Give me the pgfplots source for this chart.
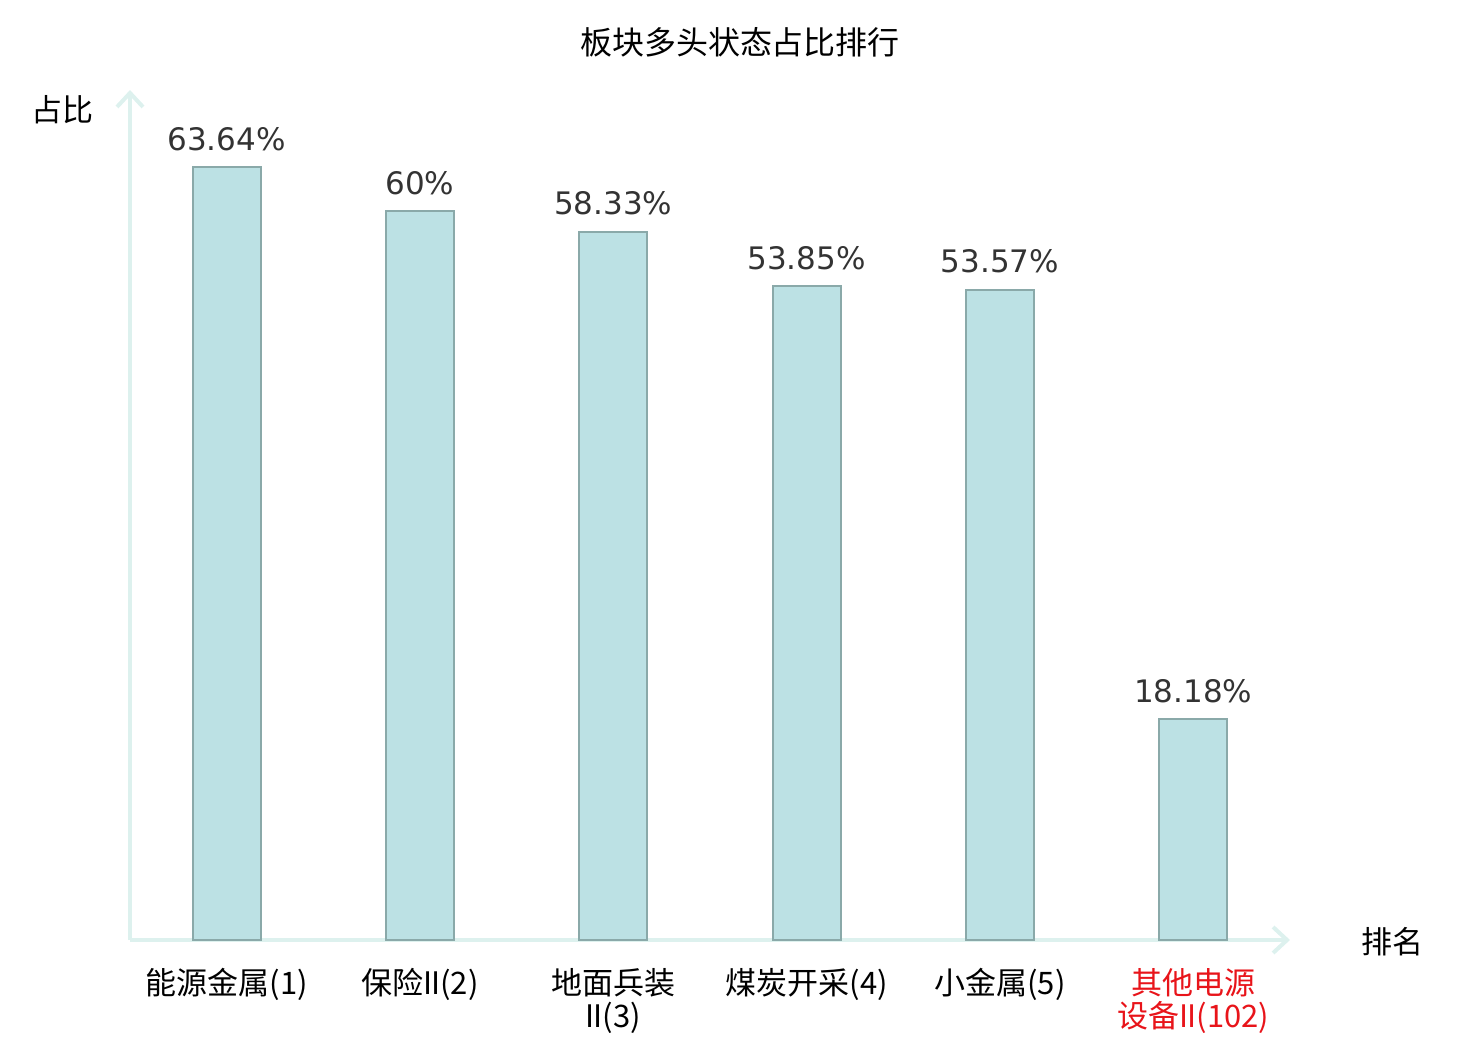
\documentclass[border=0pt]{standalone}
\usepackage{fontspec}
\usepackage{pgfplots}
\usepackage{pgfplotstable}
\pgfplotsset{compat=1.18}
\usetikzlibrary{arrows.meta}
\setmainfont{Noto Sans CJK SC}
\newfontfamily\numfont{DejaVu Sans}
\definecolor{barfill}{HTML}{BCE1E4}
\definecolor{baredge}{HTML}{8AA9A9}
\definecolor{axcol}{HTML}{DDF1EE}
\definecolor{lab}{HTML}{333333}
\definecolor{hl}{HTML}{E8141A}
\newcommand{\rn}{I\kern-0.04em I}
\pgfplotstableread{
x y
0 63.64
1 60
2 58.33
3 53.85
4 53.57
5 18.18
}\datatab
\begin{document}
\begin{tikzpicture}
\begin{axis}[
  scale only axis, width=580pt, height=425pt,
  xmin=-0.5, xmax=5.5, ymin=0, ymax=70,
  axis x line=bottom, axis y line=left,
  axis line style={draw=axcol, line width=2pt, -{Straight Barb[length=7pt,width=13pt]}},
  ytick=\empty,
  xtick={0,1,2,3,4,5},
  xticklabels={{能源金属(1)},{保险\rn(2)},{地面兵装\\\rn(3)},{煤炭开采(4)},{小金属(5)},{\textcolor{hl}{其他电源}\\\textcolor{hl}{设备\rn(102)}}},
  major tick length=0pt,
  xticklabel style={font=\fontsize{15.5}{16.5}\selectfont, align=center, anchor=north, yshift=-10.5pt, text=black},
  ybar, bar width=34pt,
  nodes near coords={\pgfmathprintnumber[fixed,precision=2]{\pgfplotspointmeta}\%},
  point meta=y,
  nodes near coords style={font=\numfont\fontsize{15.5}{18}\selectfont, text=lab, yshift=4.5pt, /pgf/number format/assume math mode=true},
  clip=false,
]
\addplot[fill=barfill, draw=baredge, line width=1pt] table[x=x,y=y] {\datatab};
\end{axis}
\node[font=\fontsize{16}{18}\selectfont] at (305pt,449pt) {板块多头状态占比排行};
\node[font=\fontsize{15.5}{18}\selectfont] at (-33.5pt,415pt) {占比};
\node[font=\fontsize{15.5}{18}\selectfont] at (631pt,-1pt) {排名};
\pgfresetboundingbox
\useasboundingbox (-65pt,-50pt) rectangle (675pt,470pt);
\end{tikzpicture}
\end{document}
